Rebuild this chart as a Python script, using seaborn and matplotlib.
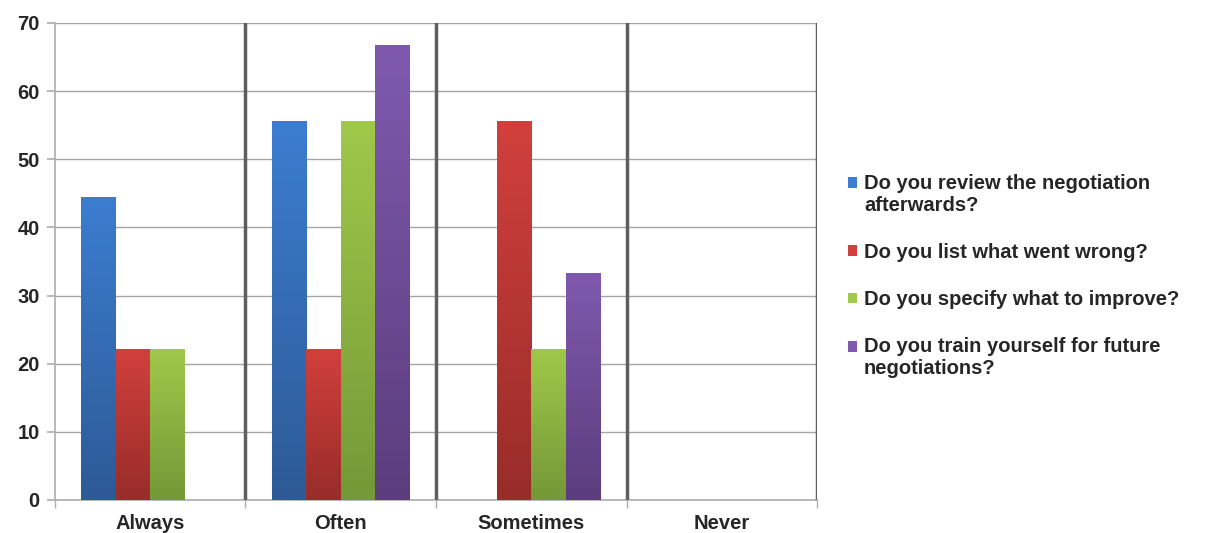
import matplotlib
matplotlib.use("Agg")
import matplotlib.pyplot as plt
import numpy as np
import pandas as pd
import seaborn as sns
from matplotlib.colors import LinearSegmentedColormap
from matplotlib.patches import Patch, Rectangle
from matplotlib.legend_handler import HandlerPatch

categories = ["Always", "Often", "Sometimes", "Never"]
questions = [
    "Do you review the negotiation\nafterwards?",
    "Do you list what went wrong?",
    "Do you specify what to improve?",
    "Do you train yourself for future\nnegotiations?",
]
review = [44.4, 55.6, 0, 0]
list_wrong = [22.2, 22.2, 55.6, 0]
specify = [22.2, 55.6, 22.2, 0]
train = [0, 66.7, 33.3, 0]

# top (light) and bottom (dark) colours of each gradient
light = ["#3C7DD0", "#D2403D", "#A0C84A", "#8059AE"]
dark = ["#2D5A96", "#982C29", "#759838", "#5B3D7D"]

df = pd.DataFrame({"category": categories, questions[0]: review, questions[1]: list_wrong,
                   questions[2]: specify, questions[3]: train})
df = df.melt(id_vars="category", var_name="question", value_name="value")

sns.set_theme(style="white")
plt.rcParams["font.family"] = ["Liberation Sans", "DejaVu Sans"]

fig = plt.figure(figsize=(12.22, 5.33), dpi=100)
ax = fig.add_axes([0.045, 0.062, 0.6236, 0.895])

sns.barplot(data=df, x="category", y="value", hue="question", hue_order=questions,
            palette=light, width=0.725, gap=0, saturation=1, legend=False, ax=ax)

# vertical gradient fill on each bar
grad = np.linspace(0, 1, 256).reshape(-1, 1)
for i, cont in enumerate(ax.containers):
    cmap = LinearSegmentedColormap.from_list("g%d" % i, [dark[i], light[i]])
    for bar in cont:
        x0, y0 = bar.get_x(), bar.get_y()
        w, h = bar.get_width(), bar.get_height()
        if h <= 0:
            continue
        im = ax.imshow(grad, extent=[x0, x0 + w, y0, y0 + h], origin="lower",
                       aspect="auto", cmap=cmap, zorder=3)
        im.set_clip_path(bar)
        bar.set_facecolor("none")
        bar.set_edgecolor("none")

ax.set_xlim(-0.5, 3.5)
ax.set_ylim(0, 70)
ax.set_yticks(range(0, 71, 10))
ax.grid(axis="y", color="#A5A5A5", lw=1, zorder=0)
ax.set_axisbelow(True)
for x in [0.5, 1.5, 2.5, 3.5]:
    ax.axvline(x, color="#5E5E5E", lw=2.5, zorder=4)

for s in ["top", "right"]:
    ax.spines[s].set_visible(False)
ax.spines["left"].set_color("#B0B0B0")
ax.spines["bottom"].set_color("#B0B0B0")
ax.spines["left"].set_zorder(1)

ax.tick_params(axis="y", length=6, color="#B0B0B0", labelsize=14.5, pad=5, left=True)
ax.set_xticks(range(4))
ax.set_xticklabels(categories)
ax.tick_params(axis="x", length=0, labelsize=14.5, pad=10)
ax.set_xticks([-0.5, 0.5, 1.5, 2.5, 3.5], minor=True)
ax.tick_params(axis="x", which="minor", length=6, color="#B0B0B0", bottom=True)
for lbl in ax.get_xticklabels() + ax.get_yticklabels():
    lbl.set_fontweight("bold")
ax.set_xlabel("")
ax.set_ylabel("")


# legend squares sit on the first line of two-line labels
def top_square(legend, orig_handle, xdescent, ydescent, width, height, fontsize):
    return Rectangle((-xdescent, -ydescent + 0.6 * fontsize), width, height)


handles = [Patch(facecolor=light[i], edgecolor="none") for i in range(4)]
hmap = {handles[i]: HandlerPatch(patch_func=top_square)
        for i in range(4) if "\n" in questions[i]}
fig.legend(handles, questions, loc="center left", bbox_to_anchor=(0.679, 0.482),
           frameon=False, prop={"weight": "bold", "size": 14.5}, handler_map=hmap,
           handlelength=0.45, handleheight=0.45, handletextpad=0.35, labelspacing=1.4)

fig.savefig("out.png", dpi=100, facecolor="white")
